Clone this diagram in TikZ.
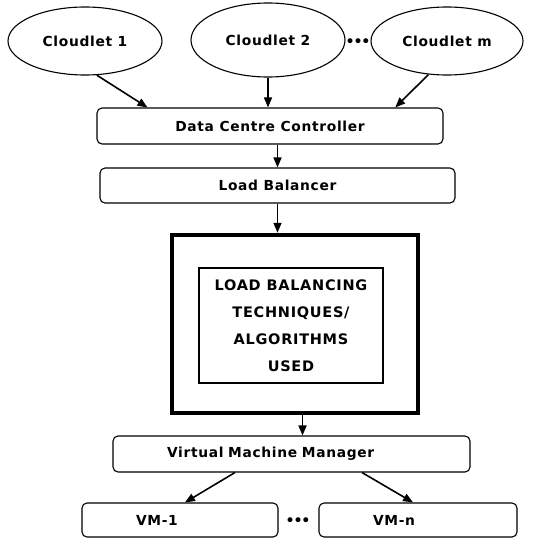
\documentclass[tikz,border=0pt]{standalone}
\usepackage{fontspec}
\setmainfont[LetterSpace=5]{DejaVu Sans}
\usetikzlibrary{shapes.geometric,arrows.meta,calc}

\tikzset{
    cloud/.style={draw, ellipse, line width=1.1pt, minimum width=154pt, minimum height=68pt, inner sep=0pt},
    box/.style={draw, rounded corners=5pt, line width=1.1pt, minimum height=35pt, inner sep=0pt},
    vmbox/.style={box, align=left, inner xsep=54pt},
    flow/.style={line width=1.6pt, -{Triangle[length=10pt,width=8pt]}},
    lbl/.style={font=\fontsize{13.8}{16}\selectfont\bfseries},
    more/.style={inner sep=0pt, font=\fontsize{17}{17}\selectfont\addfontfeature{LetterSpace=-12}}
}

\begin{document}
    \begin{tikzpicture}[x=1pt, y=-1pt, lbl]
        \useasboundingbox (0,0) rectangle (536,538);
        % cloudlets
        \node[cloud] (c1) at (85,41) {Cloudlet 1};
        \node[cloud, minimum height=74pt] (c2) at (268,40) {Cloudlet 2};
        \node[cloud, minimum width=152pt] (cm) at (447,41) {Cloudlet m};
        \node[more] (dots1) at (358,43) {\textbullet\textbullet\textbullet};
        % controller and balancer
        \node[box, minimum width=346pt, minimum height=36pt] (dcc) at (270,126) {Data Centre Controller};
        \node[box, minimum width=355pt] (lb) at (277.5,185.5) {Load Balancer};
        % techniques
        \node[draw, line width=4.5pt, minimum width=246pt, minimum height=178pt] (outer) at (295,324) {};
        \node[draw, line width=1.3pt, minimum width=184pt, minimum height=115pt, align=center,
              font=\fontsize{14.5}{27}\selectfont\bfseries] (inner) at (291,325.5)
              {LOAD BALANCING\\TECHNIQUES/\\ALGORITHMS\\USED};
        % virtual machines
        \node[vmbox, text width=249pt, minimum height=36pt] (vmm) at (291.5,454) {Virtual Machine Manager};
        \node[vmbox, text width=88pt, minimum height=34pt] (vm1) at (180,520) {VM-1};
        \node[vmbox, text width=90pt, minimum height=34pt] (vmn) at (418,520) {VM-n};
        \node[more] (dots2) at (298,522) {\textbullet\textbullet\textbullet};

        \draw[flow] (c1.-71) -- ($(dcc.north west)!0.147!(dcc.north east)$);
        \draw[flow] (c2.south) -- (c2.south |- dcc.north);
        \draw[flow] (cm.-119) -- ($(dcc.north west)!0.861!(dcc.north east)$);
        \draw[flow] (lb.north |- dcc.south) -- (lb.north);
        \draw[flow] (lb.south) -- (lb.south |- outer.north);
        \draw[flow] ($(outer.south west)!0.53!(outer.south east)$) coordinate (o1) -- (o1 |- vmm.north);
        \draw[flow] ($(vmm.south west)!0.342!(vmm.south east)$) -- ($(vm1.north west)!0.525!(vm1.north east)$);
        \draw[flow] ($(vmm.south west)!0.697!(vmm.south east)$) -- ($(vmn.north west)!0.475!(vmn.north east)$);
    \end{tikzpicture}
\end{document}
